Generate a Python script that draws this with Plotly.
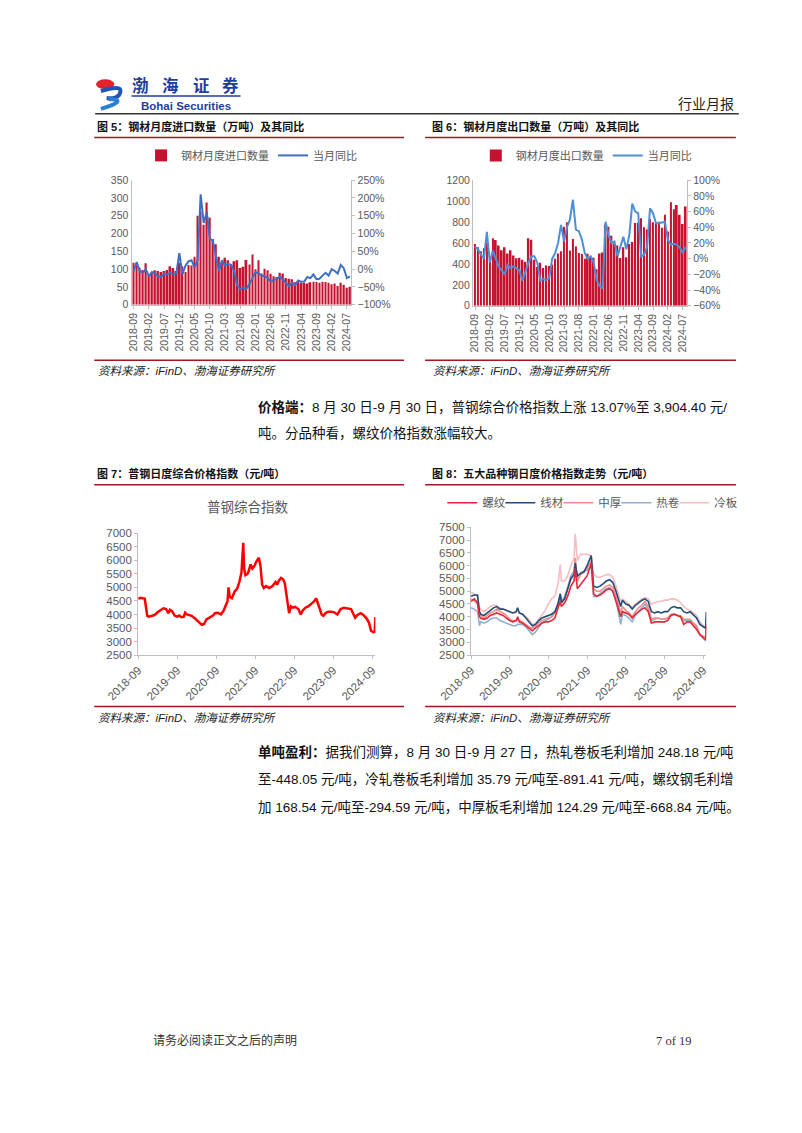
import plotly.graph_objects as go
import pandas as pd

W, H = 802, 1133


def px(x):
    return x / W


def py(y):
    return 1 - y / H


# ---------------- data ----------------
months = pd.date_range("2018-09-01", "2024-08-01", freq="MS").strftime("%Y-%m").tolist()

import_qty = [118, 110, 104, 98,
              117, 82, 90, 97, 95, 92, 95, 98, 108, 103, 95, 118,
              108, 92, 112, 110, 135, 250, 262, 225, 287, 245, 185, 170,
              135, 118, 132, 125, 110, 122, 125, 103, 107, 126, 113, 141,
              100, 125, 88, 101, 97, 87, 80, 78, 90, 88, 75, 73,
              72, 63, 66, 62, 61, 60, 63, 65, 64, 62, 65, 64,
              62, 58, 60, 53, 62, 56, 48, 51]
import_yoy = [-5, 20, -5, -10,
              0, -20, -8, -12, -20, -22, -12, -15, -10, -14, -12, 45,
              -15, 10, 22, 25, 5, 25, 210, 130, 160, 85, 80, 35,
              -5, 25, 10, 15, 12, -5, -45, -57, -52, -55, -42, -25,
              -8, -12, -18, -20, -25, -35, -30, -28, -20, -30, -40, -48,
              -38, -45, -32, -35, -35, -22, -25, -15, -28, -27, -18, -10,
              -18, 0, -5, -12, 12, 2, -25, -20]

export_qty = [590, 560, 520, 550,
              600, 430, 644, 629, 575, 530, 560, 500, 530, 480, 455, 460,
              440, 420, 645, 630, 440, 370, 412, 362, 385, 379, 392, 450,
              500, 520, 754, 797, 527, 638, 566, 505, 495, 450, 498, 462,
              460, 350, 500, 510, 776, 755, 668, 595, 577, 457, 560, 464,
              590, 610, 790, 794, 836, 751, 729, 829, 797, 793, 802, 745,
              870, 710, 989, 922, 963, 869, 780, 949]
export_yoy = [15, 12, 5, 0,
              34, -5, 10, 0, -10, -15, -20, -8, -12, -10, -12, -15,
              -28, -15, -5, 3, 3, -5, -28, -26, -27, -25, 0, 7,
              20, 43, 22, 40, 50, 75, 37, 35, 25, 7, 0, 3,
              -5, -27, -35, -38, 47, 30, 20, 22, 3, 15, 28, 12,
              30, 70, 60, 58, 3, 5, 15, 64, 58, 45, 45, 46,
              47, 24, 18, 19, 18, 14, 8, 15]

index_dates = ["2018-09-01", "2018-09-20", "2018-10-15", "2018-11-01", "2018-11-10", "2018-11-25",
               "2018-12-10", "2019-01-01", "2019-02-01", "2019-03-01", "2019-04-01", "2019-04-25",
               "2019-05-20", "2019-06-10", "2019-06-25", "2019-07-15", "2019-08-10", "2019-09-01",
               "2019-09-20", "2019-10-10", "2019-11-01", "2019-11-15", "2019-12-01", "2019-12-25",
               "2020-01-15", "2020-02-15", "2020-03-10", "2020-04-01", "2020-04-20", "2020-05-10",
               "2020-06-01", "2020-07-01", "2020-08-01", "2020-08-20", "2020-09-15", "2020-10-15",
               "2020-11-10", "2020-11-30", "2020-12-15", "2020-12-25", "2021-01-05", "2021-01-25",
               "2021-02-20", "2021-03-15", "2021-04-05", "2021-04-25", "2021-05-12", "2021-05-20",
               "2021-06-01", "2021-06-20", "2021-07-01", "2021-07-20", "2021-08-05", "2021-08-25",
               "2021-09-10", "2021-10-05", "2021-10-20", "2021-11-05", "2021-11-20", "2021-12-10",
               "2022-01-10", "2022-02-10", "2022-03-10", "2022-03-25", "2022-04-10", "2022-05-01",
               "2022-05-20", "2022-06-05", "2022-06-20", "2022-07-05", "2022-07-15", "2022-08-01",
               "2022-08-20", "2022-09-10", "2022-10-10", "2022-11-01", "2022-11-20", "2022-12-15",
               "2023-01-10", "2023-02-10", "2023-03-10", "2023-03-25", "2023-04-10", "2023-04-25",
               "2023-05-15", "2023-06-01", "2023-06-20", "2023-07-15", "2023-08-15", "2023-09-10",
               "2023-10-10", "2023-11-10", "2023-12-10", "2024-01-15", "2024-02-15", "2024-03-10",
               "2024-03-25", "2024-04-15", "2024-05-15", "2024-06-10", "2024-07-10", "2024-08-01",
               "2024-08-20", "2024-09-10", "2024-09-24", "2024-09-30"]
index_values = [4580, 4620, 4600, 4590, 4350, 3950,
                3920, 3950, 3980, 4080, 4150, 4230,
                4200, 4050, 4170, 4120, 3950, 3920,
                3960, 3900, 3920, 4070, 4000, 3960,
                3950, 3850, 3750, 3680, 3620, 3650,
                3820, 3880, 3960, 4050, 4060, 4000,
                4150, 4350, 4480, 5000, 4650, 4600,
                4850, 4950, 5200, 5550, 6650, 5700,
                5450, 5500, 5600, 5850, 5700, 5800,
                5950, 6100, 5800, 5100, 4980, 5050,
                4980, 5050, 5200, 5100, 5250, 5350,
                5300, 5150, 4750, 4400, 4050, 4300,
                4250, 4280, 4200, 4000, 4150, 4250,
                4300, 4400, 4500, 4600, 4450, 4250,
                4000, 3950, 4050, 4100, 4100, 4080,
                4000, 4200, 4250, 4230, 4200, 4000,
                3880, 3980, 4050, 3980, 3850, 3700,
                3400, 3350, 3360, 3904]

five_dates = ["2018-09-01", "2018-10-01", "2018-11-01", "2018-11-20", "2018-12-01", "2019-01-01",
              "2019-02-01", "2019-03-01", "2019-04-01", "2019-05-01", "2019-06-01", "2019-07-01",
              "2019-08-01", "2019-09-01", "2019-10-01", "2019-11-01", "2019-11-15", "2019-12-01",
              "2020-01-01", "2020-02-01", "2020-03-01", "2020-04-01", "2020-05-01", "2020-06-01",
              "2020-07-01", "2020-08-01", "2020-09-01", "2020-10-01", "2020-11-01", "2020-12-01",
              "2020-12-22", "2021-01-01", "2021-02-01", "2021-03-01", "2021-04-01", "2021-05-01",
              "2021-05-12", "2021-06-01", "2021-07-01", "2021-08-01", "2021-09-01", "2021-10-10",
              "2021-11-01", "2021-12-01", "2022-01-01", "2022-02-01", "2022-03-01", "2022-04-01",
              "2022-05-01", "2022-06-01", "2022-07-01", "2022-07-15", "2022-08-01", "2022-09-01",
              "2022-10-01", "2022-11-01", "2022-12-01", "2023-01-01", "2023-02-01", "2023-03-01",
              "2023-04-01", "2023-05-01", "2023-06-01", "2023-07-01", "2023-08-01", "2023-09-01",
              "2023-10-01", "2023-11-01", "2023-12-01", "2024-01-01", "2024-02-01", "2024-03-01",
              "2024-04-01", "2024-05-01", "2024-06-01", "2024-07-01", "2024-08-01", "2024-09-01",
              "2024-09-24", "2024-09-30"]
rebar = [4600, 4700, 4550, 4000, 3950, 3900, 3950, 4050, 4100, 4150, 4100, 4050,
         3950, 3850, 3800, 3850, 4000, 3800, 3750, 3650, 3550, 3450, 3550, 3650,
         3750, 3800, 3800, 3850, 3950, 4350, 4600, 4400, 4550, 4800, 5200, 5400,
         5900, 5100, 5250, 5400, 5600, 6100, 4900, 4800, 4850, 4950, 5050, 5100,
         5000, 4600, 4200, 4000, 4200, 4150, 4100, 3950, 4100, 4200, 4300, 4350,
         4200, 3750, 3800, 3800, 3800, 3800, 3850, 4050, 4100, 4050, 4000, 3700,
         3800, 3800, 3650, 3500, 3300, 3200, 3100, 3650]
wire = [4800, 4850, 4850, 4200, 4100, 4050, 4150, 4250, 4350, 4400, 4300, 4300,
        4250, 4200, 4150, 4200, 4350, 4150, 4100, 3950, 3800, 3650, 3700, 3850,
        3950, 4000, 4050, 4100, 4200, 4500, 4900, 4550, 4700, 5050, 5500, 5650,
        6100, 5600, 5700, 5750, 6000, 6400, 5200, 5150, 5200, 5300, 5400, 5450,
        5350, 5000, 4600, 4400, 4650, 4500, 4450, 4300, 4450, 4550, 4650, 4700,
        4600, 4200, 4150, 4200, 4150, 4200, 4200, 4350, 4400, 4350, 4350, 4200,
        4150, 4200, 4050, 3950, 3700, 3600, 3550, 4200]
plate = [4700, 4650, 4500, 4100, 4050, 3950, 4050, 4150, 4200, 4300, 4200, 4150,
         4050, 3900, 3850, 3850, 3900, 3850, 3800, 3700, 3600, 3550, 3650, 3750,
         3850, 3900, 3950, 4000, 4150, 4500, 4800, 4550, 4750, 5100, 5500, 5700,
         6300, 5400, 5650, 5750, 5900, 6200, 5100, 5000, 5000, 5100, 5200, 5250,
         5150, 4800, 4350, 4150, 4400, 4250, 4150, 4000, 4200, 4350, 4450, 4600,
         4400, 3900, 3950, 3950, 3900, 3900, 3950, 4100, 4100, 4050, 4050, 3900,
         3900, 3900, 3750, 3600, 3300, 3250, 3200, 3700]
hot_coil = [4350, 4300, 4200, 3650, 3800, 3750, 3800, 3900, 3950, 3950, 3850, 3800,
            3750, 3700, 3650, 3650, 3700, 3700, 3700, 3600, 3450, 3300, 3400, 3600,
            3750, 3850, 3900, 4000, 4200, 4550, 4900, 4600, 4800, 5150, 5600, 5800,
            6200, 5400, 5700, 5800, 5800, 6000, 4800, 4800, 4900, 5000, 5100, 5150,
            5000, 4650, 4000, 3700, 4100, 4050, 3950, 3800, 4050, 4200, 4350, 4500,
            4300, 3850, 3900, 3950, 3900, 3900, 3950, 4050, 4100, 4050, 4000, 3850,
            3850, 3850, 3750, 3650, 3300, 3150, 3050, 3700]
cold_sheet = [4950, 4900, 4800, 4350, 4300, 4200, 4300, 4400, 4450, 4450, 4350, 4300,
              4250, 4200, 4150, 4150, 4250, 4150, 4100, 4000, 3900, 3700, 3750, 3900,
              4050, 4250, 4500, 4700, 4800, 5300, 6050, 5400, 5400, 5600, 6000, 6300,
              7250, 6200, 6450, 6450, 6450, 6400, 5700, 5550, 5550, 5600, 5650, 5650,
              5550, 5200, 4750, 4600, 4700, 4600, 4500, 4350, 4500, 4600, 4700, 4750,
              4700, 4500, 4550, 4600, 4600, 4650, 4650, 4700, 4700, 4650, 4550, 4400,
              4300, 4250, 4150, 4050, 3800, 3650, 3600, 3950]

year_ticks = ["2018-09-01", "2019-09-01", "2020-09-01", "2021-09-01",
              "2022-09-01", "2023-09-01", "2024-09-01"]

# ---------------- styles ----------------
GRAY = "#595959"
AXIS = "#bfbfbf"
DARKRED = "#9e1b22"
CJK = "Liberation Sans, Noto Sans CJK SC"
TICKFONT = dict(family=CJK, size=10.5, color=GRAY)
TICKFONT2 = dict(family=CJK, size=11.5, color=GRAY)

fig = go.Figure()

# Chart 1: imports
fig.add_trace(go.Bar(x=months, y=import_qty, name="钢材月度进口数量", marker=dict(color="#c4122f", line=dict(width=0)),
                     xaxis="x", yaxis="y", legend="legend"))
fig.add_trace(go.Scatter(x=months, y=import_yoy, name="当月同比", mode="lines",
                         line=dict(color="#3d6fc4", width=2), xaxis="x", yaxis="y2", legend="legend"))

# Chart 2: exports
fig.add_trace(go.Bar(x=months, y=export_qty, name="钢材月度出口数量", marker=dict(color="#c4122f", line=dict(width=0)),
                     xaxis="x2", yaxis="y3", legend="legend2"))
fig.add_trace(go.Scatter(x=months, y=export_yoy, name="当月同比", mode="lines",
                         line=dict(color="#4d8fd6", width=2), xaxis="x2", yaxis="y4", legend="legend2"))

# Chart 3: composite index
fig.add_trace(go.Scatter(x=index_dates, y=index_values, name="普钢综合指数", mode="lines",
                         line=dict(color="#ff0000", width=2.5), xaxis="x3", yaxis="y5", showlegend=False))

# Chart 4: five products (drawn light to dark, legend order fixed by rank)
five = [("冷板", cold_sheet, "#f6bcc4", 5, 26), ("热卷", hot_coil, "#8fb1cf", 4, None),
        ("中厚", plate, "#f28b8b", 3, None), ("线材", wire, "#1f4e79", 2, None), ("螺纹", rebar, "#e2283a", 1, None)]
for name, vals, col, rank, lw in five:
    tr = go.Scatter(x=five_dates, y=vals, name=name, mode="lines", legendrank=rank,
                    line=dict(color=col, width=1.6), xaxis="x4", yaxis="y6", legend="legend3")
    if lw:
        tr.legendwidth = lw
    fig.add_trace(tr)

common_x = dict(showgrid=False, zeroline=False, showline=True, linecolor=AXIS, linewidth=1,
                ticks="outside", ticklen=3, tickcolor=AXIS)
common_y = dict(showgrid=False, zeroline=False, showline=True, linecolor=AXIS, linewidth=1)

legend_common = dict(orientation="h", xanchor="left", yanchor="middle", itemwidth=30,
                     bgcolor="rgba(0,0,0,0)", borderwidth=0, tracegroupgap=0, entrywidthmode="pixels")

fig.update_layout(
    width=W, height=H, margin=dict(l=0, r=0, t=0, b=0),
    paper_bgcolor="white", plot_bgcolor="white",
    font=dict(family=CJK, color="#222"),
    bargap=0.42, hovermode=False,
    xaxis=dict(domain=[px(103), px(333)], anchor="y", type="category", range=[-0.7, 71.5],
               tickmode="array", tickvals=months[::5], tickangle=-90, tickfont=TICKFONT, **common_x),
    yaxis=dict(domain=[py(302), py(176)], anchor="x", range=[0, 350], dtick=50, tickfont=TICKFONT, **common_y),
    yaxis2=dict(overlaying="y", anchor="x", side="right", range=[-100, 250], dtick=50, ticksuffix="%",
                ticks="outside", ticklen=3, tickcolor=AXIS, tickfont=TICKFONT, **common_y),
    xaxis2=dict(domain=[px(460), px(684)], anchor="y3", type="category", range=[-0.7, 71.5],
                tickmode="array", tickvals=months[::5], tickangle=-90, tickfont=TICKFONT, **common_x),
    yaxis3=dict(domain=[py(303), py(176)], anchor="x2", range=[0, 1200], dtick=200, tickfont=TICKFONT, **common_y),
    yaxis4=dict(overlaying="y3", anchor="x2", side="right", range=[-60, 100], dtick=20, ticksuffix="%",
                ticks="outside", ticklen=3, tickcolor=AXIS, tickfont=TICKFONT, **common_y),
    xaxis3=dict(domain=[px(110), px(358)], anchor="y5", type="date", range=["2018-09-01", "2024-09-30"],
                tickmode="array", tickvals=year_ticks, tickformat="%Y-%m", tickangle=-45, tickfont=TICKFONT2, **common_x),
    yaxis5=dict(domain=[py(656), py(533)], anchor="x3", range=[2500, 7000], dtick=500,
                ticks="outside", ticklen=3, tickcolor=AXIS, tickfont=TICKFONT2, **common_y),
    xaxis4=dict(domain=[px(458), px(704)], anchor="y6", type="date", range=["2018-09-01", "2024-09-30"],
                tickmode="array", tickvals=year_ticks, tickformat="%Y-%m", tickangle=-45, tickfont=TICKFONT2, **common_x),
    yaxis6=dict(domain=[py(656), py(527)], anchor="x4", range=[2500, 7500], dtick=500,
                ticks="outside", ticklen=3, tickcolor=AXIS, tickfont=TICKFONT2, **common_y),
    legend=dict(x=px(113), y=py(151), entrywidth=87,
                font=dict(family=CJK, size=11, color=GRAY), **legend_common),
    legend2=dict(x=px(463), y=py(151), entrywidth=87,
                 font=dict(family=CJK, size=11, color=GRAY), **legend_common),
    legend3=dict(x=px(428), y=py(502), entrywidth=13,
                 font=dict(family=CJK, size=11.5, color=GRAY), **legend_common),
)

# ---------------- page text ----------------
ann = []


def text(x, y, s, size=12, color="#111", anchor="left", family=CJK):
    ann.append(dict(xref="paper", yref="paper", x=px(x), y=py(y), text=s, showarrow=False,
                    xanchor=anchor, yanchor="middle", font=dict(size=size, color=color, family=family)))


# header / logo text
for cx, ch in zip([112, 144, 176, 207], ["渤", "海", "证", "券"]):
    ann.append(dict(xref="paper", yref="paper", x=px(cx), y=py(80), text="<b>" + ch + "</b>", showarrow=False,
                    xanchor="center", yanchor="middle",
                    font=dict(size=16.5, color="#1d3f9e", family="Noto Sans CJK SC")))
text(160, 101, "<b>Bohai Securities</b>", size=11.5, color="#1d3f9e", anchor="center", family="Liberation Sans")
text(735, 98, "行业月报", size=14, color="#222", anchor="right", family="Noto Sans CJK SC")

# figure titles
text(65, 122, "<b>图 5：钢材月度进口数量（万吨）及其同比</b>", size=11)
text(415, 122, "<b>图 6：钢材月度出口数量（万吨）及其同比</b>", size=11)
text(65, 472, "<b>图 7：普钢日度综合价格指数（元/吨）</b>", size=11)
text(415, 472, "<b>图 8：五大品种钢日度价格指数走势（元/吨）</b>", size=11)
text(225, 507, "普钢综合指数", size=13.5, color=GRAY, anchor="center")

# sources
for sx, sy in [(66, 369), (416, 369), (66, 720), (416, 720)]:
    text(sx, sy, "<i>资料来源：iFinD、渤海证券研究所</i>", size=11.5, color="#222")

# paragraphs
BODY = 13.5
text(233, 405, "<b>价格端：</b>8 月 30 日-9 月 30 日，普钢综合价格指数上涨 13.07%至 3,904.40 元/", size=BODY)
text(233, 432, "吨。分品种看，螺纹价格指数涨幅较大。", size=BODY)
text(233, 754, "<b>单吨盈利：</b>据我们测算，8 月 30 日-9 月 27 日，热轧卷板毛利增加 248.18 元/吨", size=BODY)
text(233, 782, "至-448.05 元/吨，冷轧卷板毛利增加 35.79 元/吨至-891.41 元/吨，螺纹钢毛利增", size=BODY)
text(233, 810, "加 168.54 元/吨至-294.59 元/吨，中厚板毛利增加 124.29 元/吨至-668.84 元/吨。", size=BODY)

# footer
text(123, 1046, "请务必阅读正文之后的声明", size=12, color="#333")
text(690, 1046, "7 of 19", size=12.5, color="#333", anchor="right", family="Liberation Serif")

fig.update_layout(annotations=ann)

# ---------------- decorative lines / logo ----------------
shapes = []


def hline(x0, x1, y, color, width):
    shapes.append(dict(type="line", xref="paper", yref="paper", x0=px(x0), x1=px(x1), y0=py(y), y1=py(y),
                       line=dict(color=color, width=width)))


hline(65, 738, 109, "#333333", 1.5)
hline(103, 217, 91, "#1d3f9e", 1.5)
for y in (133, 358, 484, 708):
    hline(64, 388, y, DARKRED, 1.5)
    hline(410, 735, y, DARKRED, 1.5)

# logo swoosh
shapes.append(dict(type="circle", xref="paper", yref="paper", x0=px(66), x1=px(85), y0=py(84), y1=py(74),
                   fillcolor="#e3222b", line=dict(width=0)))


def path(points):
    (x0, y0), rest = points[0], points[1:]
    s = f"M {px(x0)},{py(y0)}"
    for i in range(0, len(rest), 2):
        (cx, cy), (ex, ey) = rest[i], rest[i + 1]
        s += f" Q {px(cx)},{py(cy)} {px(ex)},{py(ey)}"
    return s


shapes.append(dict(type="path", xref="paper", yref="paper",
                   path=path([(71, 86), (97, 78), (90, 90), (86, 94), (77, 93)]),
                   line=dict(color="#1f56b5", width=4)))
shapes.append(dict(type="path", xref="paper", yref="paper",
                   path=path([(79, 94), (101, 95), (71, 104)]),
                   line=dict(color="#2f7fd6", width=4)))
fig.update_layout(shapes=shapes)

fig.write_html("out.html", config={"displayModeBar": False},
               post_script="document.body.style.margin='0px';")
